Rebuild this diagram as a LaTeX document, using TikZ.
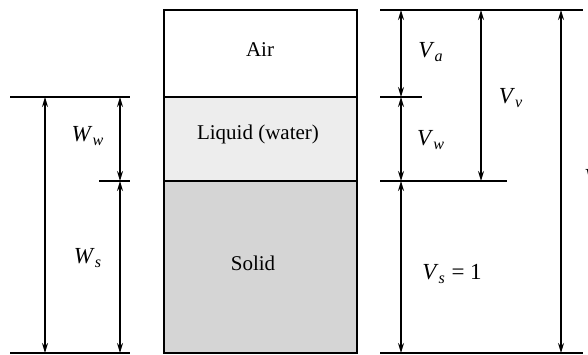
\documentclass[tikz,border=0pt]{standalone}
\usepackage{fontspec}
\setmainfont{Liberation Serif}
\usetikzlibrary{arrows.meta}
\definecolor{LiquidFill}{HTML}{EDEDED}
\definecolor{SolidFill} {HTML}{D5D5D5}
\newcommand\qsym[2]{\textit{#1}\textsubscript{\textit{#2}}}

\begin{document}
\begin{tikzpicture}[x=0.5pt,y=-0.5pt,
    phase/.style={draw,line width=0.7pt},
    dimline/.style={line width=0.7pt},
    dimarrow/.style={line width=0.7pt,{Stealth[length=5pt,width=3pt]}-{Stealth[length=5pt,width=3pt]}},
    qlabel/.style={font=\fontsize{11.5}{13}\selectfont,inner sep=1pt},
    phasetext/.style={font=\fontsize{10.5}{12}\selectfont}]
  \useasboundingbox[clip] (0,0) rectangle (588,354);
  % phase diagram
  \filldraw[phase,fill=white]      (164,10)  rectangle (357,97);
  \filldraw[phase,fill=LiquidFill] (164,97)  rectangle (357,181);
  \filldraw[phase,fill=SolidFill]  (164,181) rectangle (357,353);
  \node[phasetext] (air)    at (260,50)  {Air};
  \node[phasetext] (liquid) at (258,134) {Liquid (water)};
  \node[phasetext] (solid)  at (253,263) {Solid};
  % weights
  \coordinate (wtopL) at (10,97);   \coordinate (wtopR) at (130,97);
  \coordinate (wmidL) at (99,181);  \coordinate (wmidR) at (130,181);
  \coordinate (wbotL) at (10,353);  \coordinate (wbotR) at (130,353);
  \draw[dimline] (wtopL) -- (wtopR);
  \draw[dimline] (wmidL) -- (wmidR);
  \draw[dimline] (wbotL) -- (wbotR);
  \draw[dimarrow] (45,97) -- (45,353);
  \draw[dimarrow] (120,97) -- (120,181);
  \draw[dimarrow] (120,181) -- (120,353);
  \node[qlabel] (Ww) at (88,136) {\qsym{W}{w}};
  \node[qlabel] (Ws) at (88,258) {\qsym{W}{s}};
  % volumes
  \coordinate (vtopL) at (380,10);  \coordinate (vtopR) at (583,10);
  \coordinate (vaL)   at (380,97);  \coordinate (vaR)   at (422,97);
  \coordinate (vwL)   at (380,181); \coordinate (vwR)   at (507,181);
  \coordinate (vbotL) at (380,353); \coordinate (vbotR) at (583,353);
  \draw[dimline] (vtopL) -- (vtopR);
  \draw[dimline] (vaL) -- (vaR);
  \draw[dimline] (vwL) -- (vwR);
  \draw[dimline] (vbotL) -- (vbotR);
  \draw[dimarrow] (401,10) -- (401,97);
  \draw[dimarrow] (401,97) -- (401,181);
  \draw[dimarrow] (401,181) -- (401,353);
  \draw[dimarrow] (481,10) -- (481,181);
  \draw[dimarrow] (561,10) -- (561,353);
  \node[qlabel] (Va) at (431,52)  {\qsym{V}{a}};
  \node[qlabel] (Vw) at (431,140) {\qsym{V}{w}};
  \node[qlabel] (Vv) at (511,98)  {\qsym{V}{v}};
  \node[qlabel] (Vs) at (452,274) {\qsym{V}{s} = 1};
  \node[qlabel,anchor=west] (V) at (582,177) {\textit{V}};
\end{tikzpicture}
\end{document}
